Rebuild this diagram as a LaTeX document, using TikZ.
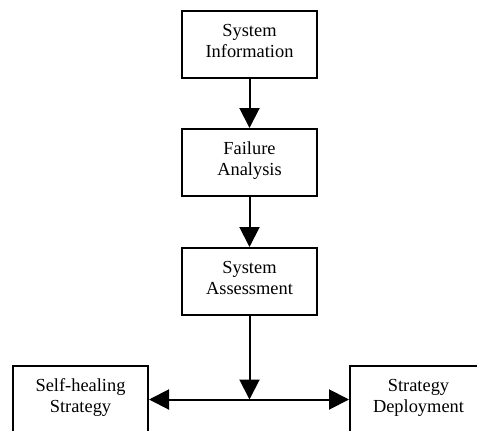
\documentclass[tikz,border=0pt]{standalone}
\usepackage{fontspec}
\setmainfont{Liberation Serif}
\usetikzlibrary{arrows.meta}
\begin{document}
\begin{tikzpicture}[x=1pt,y=-1pt,
  box/.style={draw, line width=2pt, rectangle, inner sep=0pt,
    minimum width=135pt, minimum height=67pt, align=center,
    text depth=8pt,
    font=\fontsize{18.4}{21}\selectfont},
  conn/.style={line width=2pt, -{Triangle[length=20pt,width=20pt]}}]
\useasboundingbox (0,0) rectangle (477,431);
\clip (0,0) rectangle (477,431);
\node[box] (info) at (249.5,44.5) {System\\Information};
\node[box] (fail) at (249.5,162.5) {Failure\\Analysis};
\node[box] (assess) at (249.5,281.5) {System\\Assessment};
\node[box] (heal) at (80.5,399.5) {Self-healing\\Strategy};
\node[box, minimum width=137pt] (deploy) at (418.5,399.5) {Strategy\\Deployment};
\coordinate (junc) at (249.5,399.5);
\draw[conn] (info) -- (fail);
\draw[conn] (fail) -- (assess);
\draw[conn] (assess) -- (junc);
\draw[conn] (junc) -- (heal.east);
\draw[conn] (junc) -- (deploy.west);
\end{tikzpicture}
\end{document}
